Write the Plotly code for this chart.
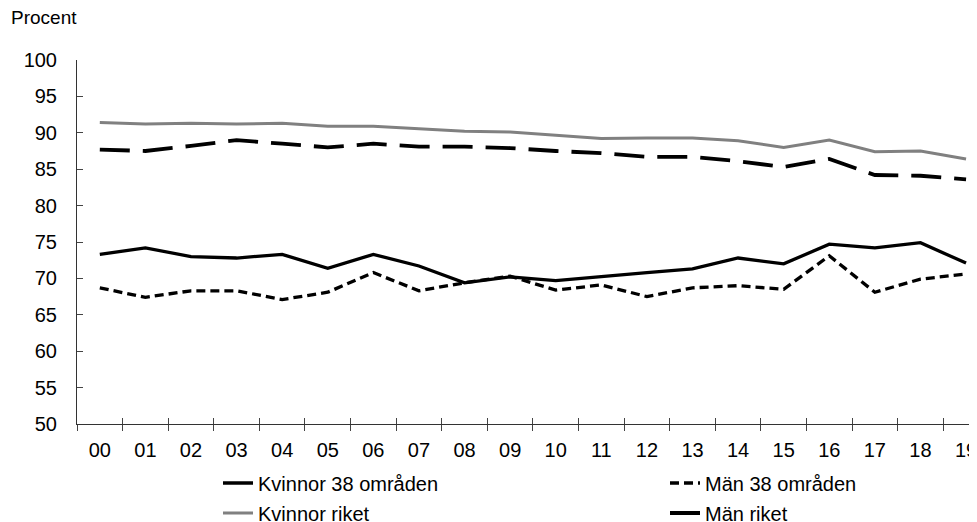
import plotly.graph_objects as go

years = ["00", "01", "02", "03", "04", "05", "06", "07", "08", "09",
         "10", "11", "12", "13", "14", "15", "16", "17", "18", "19"]
kvinnor_38 = [73.3, 74.2, 73.0, 72.8, 73.3, 71.4, 73.3, 71.7, 69.4, 70.2,
              69.7, 70.3, 70.8, 71.3, 72.8, 72.0, 74.7, 74.2, 74.9, 72.1]
man_38 = [68.7, 67.4, 68.3, 68.3, 67.1, 68.1, 70.8, 68.3, 69.4, 70.3,
          68.4, 69.1, 67.5, 68.7, 69.0, 68.5, 73.1, 68.1, 69.9, 70.6]
kvinnor_riket = [91.4, 91.2, 91.3, 91.2, 91.3, 90.9, 90.9, 90.6, 90.2, 90.1,
                 89.6, 89.2, 89.3, 89.3, 88.9, 88.0, 89.0, 87.4, 87.5, 86.4]
man_riket = [87.7, 87.5, 88.2, 89.0, 88.5, 88.0, 88.5, 88.1, 88.1, 87.9,
             87.5, 87.2, 86.7, 86.7, 86.1, 85.3, 86.4, 84.2, 84.1, 83.6]
y_ticks = [50, 55, 60, 65, 70, 75, 80, 85, 90, 95, 100]

FONT = "Arial, Liberation Sans, sans-serif"

# page body has an 8px margin: figure is sized/offset to compensate
OFF = 8
W, H = 977 - OFF, 530
ML, MT = 77 - OFF, 60 - OFF
MB = H + OFF - 424
PW, PH = W - ML, H - MT - MB


def px_x(px):
    return (px - 77) / PW


def px_y(py):
    return (424 - py) / PH


fig = go.Figure()
fig.add_trace(go.Scatter(x=years, y=kvinnor_38, name="Kvinnor 38 områden", mode="lines",
                         line=dict(color="black", width=3.3), legend="legend"))
fig.add_trace(go.Scatter(x=years, y=man_38, name="Män 38 områden", mode="lines",
                         line=dict(color="black", width=3.3, dash="9px,5px"), legend="legend2"))
fig.add_trace(go.Scatter(x=years, y=kvinnor_riket, name="Kvinnor riket", mode="lines",
                         line=dict(color="#808080", width=3), legend="legend3"))
fig.add_trace(go.Scatter(x=years, y=man_riket, name="Män riket", mode="lines",
                         line=dict(color="black", width=3.8, dash="30px,13px"), legend="legend4"))
# helper trace for the inner half of the crossing x ticks
fig.add_trace(go.Scatter(x=years, y=[None] * len(years), xaxis="x2", mode="lines",
                         showlegend=False, hoverinfo="skip"))


def leg(xpx, ypx):
    return dict(orientation="h", x=px_x(xpx), xanchor="left", y=px_y(ypx),
                yanchor="middle", font=dict(size=20), bgcolor="rgba(0,0,0,0)",
                borderwidth=0)


fig.update_layout(
    width=W, height=H, autosize=False,
    margin=dict(l=ML, r=0, t=MT, b=MB, pad=0),
    plot_bgcolor="white", paper_bgcolor="white",
    font=dict(family=FONT, size=20, color="black"),
    xaxis=dict(type="category", range=[-0.5, 19.24], tickson="boundaries",
               ticks="outside", ticklen=6, tickcolor="#444", tickwidth=1,
               showline=True, linecolor="#333", linewidth=1, showgrid=False,
               zeroline=False, tickfont=dict(size=20), ticklabelstandoff=8),
    xaxis2=dict(type="category", overlaying="x", matches="x", anchor="y", side="bottom",
                range=[-0.5, 19.24], tickson="boundaries", ticks="inside", ticklen=6,
                tickcolor="#444", showticklabels=False, showline=False, showgrid=False,
                zeroline=False),
    yaxis=dict(range=[50, 100], tickvals=y_ticks, ticks="inside", ticklen=6,
               tickcolor="#444", showline=True, linecolor="#333", linewidth=1,
               showgrid=False, zeroline=False, tickfont=dict(size=20),
               ticklabelstandoff=15),
    legend=leg(218, 483),
    legend2=leg(665, 483),
    legend3=leg(218, 513),
    legend4=leg(665, 513),
    annotations=[dict(text="Procent", xref="paper", yref="paper",
                      x=px_x(9), y=px_y(18), xanchor="left",
                      yanchor="middle", showarrow=False, font=dict(size=19))],
)

fig.write_html("out.html")
